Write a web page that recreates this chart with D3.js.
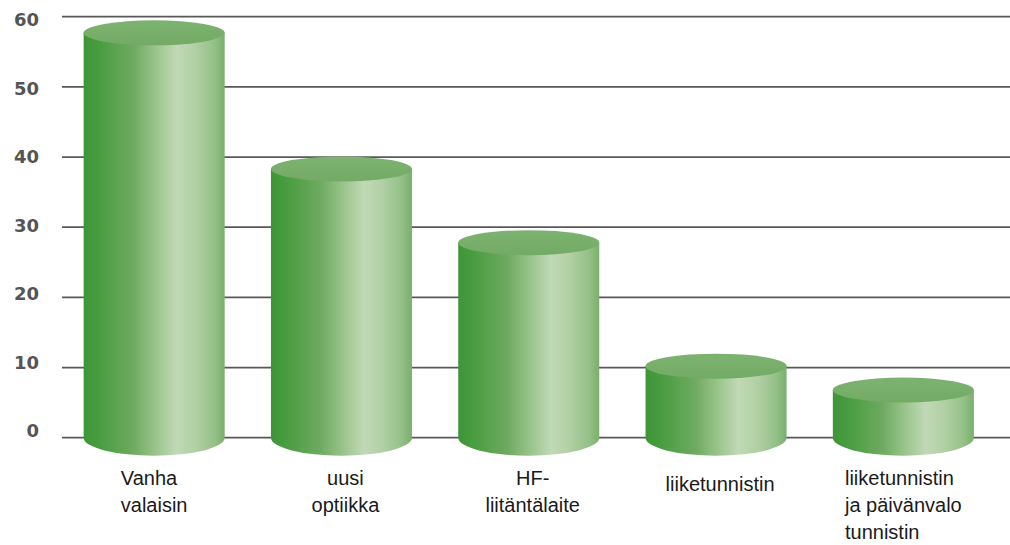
<!DOCTYPE html>
<html>
<head>
<meta charset="utf-8">
<script src="https://cdn.jsdelivr.net/npm/d3@7"></script>
<style>
  html, body { margin: 0; padding: 0; background: #ffffff; }
  svg { display: block; }
</style>
</head>
<body>
<svg id="chart" width="1010" height="545"></svg>
<script>
// ---- data ----
const categories = ["Vanha valaisin", "uusi optiikka", "HF-liitäntälaite", "liiketunnistin", "liiketunnistin ja päivänvalo tunnistin"];
const labelLines = [["Vanha", "valaisin"], ["uusi", "optiikka"], ["HF-", "liitäntälaite"], ["liiketunnistin"], ["liiketunnistin", "ja päivänvalo", "tunnistin"]];
const values = [57.7, 38.3, 27.8, 10.2, 6.8];
const tickValues = [0, 10, 20, 30, 40, 50, 60];

// ---- layout ----
const W = 1010, H = 545;
const svg = d3.select("#chart");
svg.append("rect").attr("width", W).attr("height", H).attr("fill", "#ffffff");

const y = d3.scaleLinear().domain([0, 60]).range([437.7, 16.7]);
const yLabel = d3.scaleLinear().domain([0, 60]).range([431, 20]);
const x = d3.scaleBand().domain(categories).range([60.5, 997]).paddingInner(0.247).paddingOuter(0.1235);

// gradient
const defs = svg.append("defs");
const g1 = defs.append("linearGradient").attr("id", "cyl").attr("x1", "0%").attr("x2", "100%").attr("y1", "0%").attr("y2", "0%");
[[0, "#3d9636"], [0.12, "#4a9d42"], [0.35, "#6eaa60"], [0.52, "#9cc58e"], [0.66, "#c1d9b6"], [0.8, "#b0cfa3"], [0.93, "#93c086"], [1, "#7aaf6c"]]
  .forEach(s => g1.append("stop").attr("offset", s[0]).attr("stop-color", s[1]));
const g2 = defs.append("linearGradient").attr("id", "topg").attr("x1", "0%").attr("x2", "0%").attr("y1", "0%").attr("y2", "100%");
[[0, "#7db370"], [1, "#73aa65"]].forEach(s => g2.append("stop").attr("offset", s[0]).attr("stop-color", s[1]));

// gridlines
svg.append("g").selectAll("line").data(tickValues).join("line")
  .attr("x1", 62).attr("x2", W)
  .attr("y1", d => y(d)).attr("y2", d => y(d))
  .attr("stroke", "#585858").attr("stroke-width", 1.7);

// tick labels
svg.append("g").selectAll("text").data(tickValues).join("text")
  .attr("x", 39).attr("y", d => yLabel(d))
  .attr("dy", "0.36em")
  .attr("text-anchor", "end")
  .attr("font-family", "'DejaVu Sans', Verdana, sans-serif")
  .attr("font-weight", "bold")
  .attr("font-size", 18)
  .attr("fill", "#555555")
  .text(d => d);

// cylinders
const ryTop = 12.5, ryBot = 18;
const bars = svg.append("g").selectAll("g").data(values).join("g");
bars.append("path")
  .attr("fill", "url(#cyl)")
  .attr("d", (d, i) => {
    const x0 = x(categories[i]), w = x.bandwidth(), rx = w / 2;
    const yt = y(d), yb = y(0);
    return `M${x0},${yt} L${x0},${yb} A${rx},${ryBot} 0 0 0 ${x0 + w},${yb} L${x0 + w},${yt} Z`;
  });
bars.append("path")
  .attr("fill", "url(#cyl)")
  .attr("d", (d, i) => {
    const x0 = x(categories[i]), w = x.bandwidth(), rx = w / 2;
    const yt = y(d);
    return `M${x0},${yt} A${rx},${ryTop} 0 0 0 ${x0 + w},${yt} Z`;
  });
bars.append("ellipse")
  .attr("cx", (d, i) => x(categories[i]) + x.bandwidth() / 2)
  .attr("cy", d => y(d))
  .attr("rx", x.bandwidth() / 2)
  .attr("ry", ryTop)
  .attr("fill", "url(#topg)");

// category labels
const lab = svg.append("g").selectAll("text").data(labelLines).join("text")
  .attr("font-family", "'Liberation Sans', Arial, sans-serif")
  .attr("font-size", 20)
  .attr("fill", "#1a1a1a");
lab.each(function (lines, i) {
  const t = d3.select(this);
  const leftAligned = (i === 0 || i === labelLines.length - 1);
  const cx = x(categories[i]) + x.bandwidth() / 2 + (leftAligned ? 0 : 4);
  const base = lines.length === 1 ? 491 : 485;
  lines.forEach((ln, k) => {
    t.append("tspan").attr("x", cx).attr("y", base + k * 27)
      .attr("text-anchor", "middle").text(ln);
  });
  if (leftAligned) {
    const widths = [];
    t.selectAll("tspan").each(function () { widths.push(this.getComputedTextLength()); });
    const maxW = d3.max(widths);
    t.selectAll("tspan").attr("text-anchor", "start").attr("x", cx - maxW / 2);
  }
});
</script>
</body>
</html>
